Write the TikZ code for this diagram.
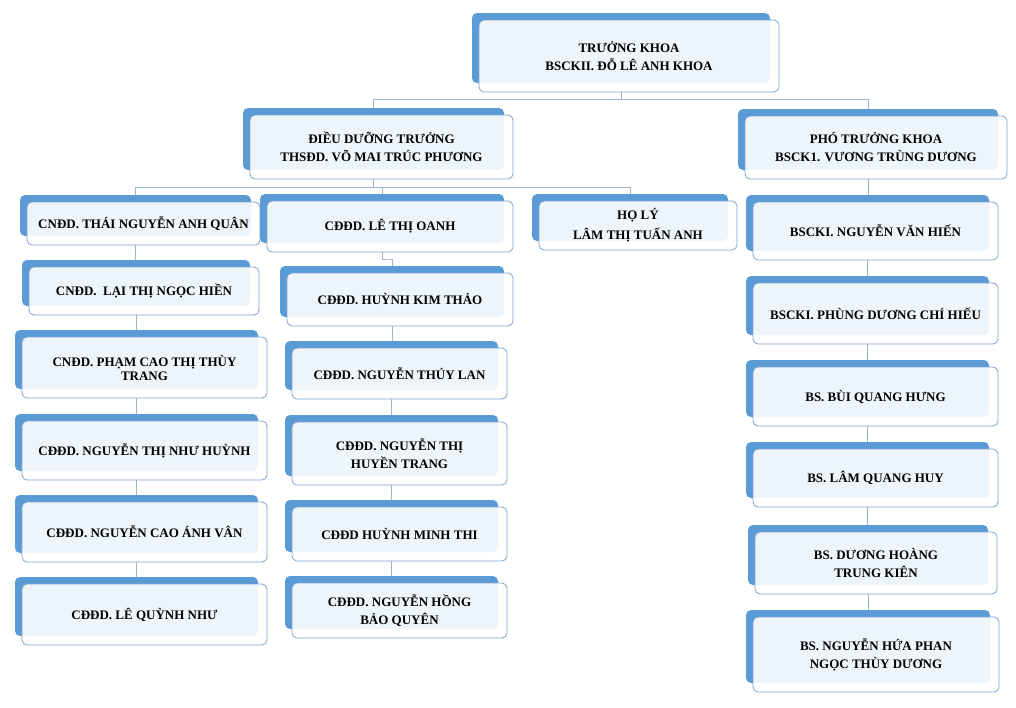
\documentclass[tikz,border=0pt]{standalone}
\usepackage{fontspec}
\setmainfont{Liberation Serif}
\usetikzlibrary{calc}
\definecolor{cTab}{HTML}{5B9BD5}
\definecolor{cBorder}{HTML}{7EA1CF}
\definecolor{cConn}{HTML}{9FB4CC}
\tikzset{
  tabshape/.style={fill=cTab, rounded corners=5pt},
  frontbox/.style={draw=cBorder, line width=0.8pt, fill=white, fill opacity=0.9, text opacity=1,
    rounded corners=5pt, align=center, inner sep=0pt,
    font=\bfseries\fontsize{13}{18}\selectfont},
  conn/.style={draw=cConn, line width=0.9pt}
}
\newcommand\obox[6]{%
  \fill[tabshape] ({#2-7},{#3-7}) rectangle ({#4-9},{#5-9});
  \node[frontbox, minimum width={(#4-#2)*1pt}, minimum height={(#5-#3)*1pt}] (#1) at ({(#2+#4)/2},{(#3+#5)/2}) {#6};
}
\newcommand\oanchors[5]{%
  \coordinate (#1-top) at ({(#2+#4)/2-8},{#3-7});
  \coordinate (#1-bot) at ({(#2+#4)/2-8},{#5});
}
\begin{document}
\begin{tikzpicture}[x=1pt,y=-1pt]
\useasboundingbox (0,0) rectangle (1016,707);
% anchor coordinates
\oanchors{root}{479}{20}{779}{92}
\oanchors{ddt}{250}{115}{513}{179}
\oanchors{ptk}{745}{116}{1007}{179}
\oanchors{a1}{27}{202}{260}{245}
\oanchors{oanh}{267}{201}{513}{252}
\oanchors{holy}{539}{201}{737}{250}
\oanchors{r1}{753}{202}{998}{260}
\oanchors{a2}{29}{267}{259}{315}
\oanchors{a3}{22}{337}{267}{398}
\oanchors{a4}{22}{421}{267}{480}
\oanchors{a5}{22}{502}{267}{562}
\oanchors{a6}{22}{584}{267}{645}
\oanchors{b1}{287}{273}{513}{326}
\oanchors{b2}{292}{348}{507}{399}
\oanchors{b3}{292}{422}{507}{485}
\oanchors{b4}{292}{507}{507}{561}
\oanchors{b5}{292}{583}{507}{638}
\oanchors{r2}{753}{283}{998}{344}
\oanchors{r3}{753}{367}{998}{426}
\oanchors{r4}{753}{449}{998}{507}
\oanchors{r5}{755}{532}{997}{594}
\oanchors{r6}{753}{617}{999}{692}
\coordinate (j1) at (0,99);
\coordinate (j2) at (0,187);
% connectors
\draw[conn] (root-bot) -- (root-bot |- j1);
\draw[conn] (ddt-top) |- (ptk-top |- j1) -- (ptk-top);
\draw[conn] (ddt-bot) -- (ddt-bot |- j2);
\draw[conn] (a1-top) |- (holy-top |- j2) -- (holy-top);
\draw[conn] (oanh-top) -- (oanh-top |- j2);
\draw[conn] (ptk-bot) -- (ptk-bot |- r1-top);
\draw[conn] (a1-bot) -- (a1-bot |- a2-top);
\draw[conn] (a2-bot) -- (a2-bot |- a3-top);
\draw[conn] (a3-bot) -- (a3-bot |- a4-top);
\draw[conn] (a4-bot) -- (a4-bot |- a5-top);
\draw[conn] (a5-bot) -- (a5-bot |- a6-top);
\draw[conn] (oanh-bot) |- ($(oanh-bot)!0.5!(b1-top)$) -| (b1-top);
\draw[conn] (b1-bot) -- (b1-bot |- b2-top);
\draw[conn] (b2-bot) -- (b2-bot |- b3-top);
\draw[conn] (b3-bot) -- (b3-bot |- b4-top);
\draw[conn] (b4-bot) -- (b4-bot |- b5-top);
\draw[conn] (r1-bot) -- (r1-bot |- r2-top);
\draw[conn] (r2-bot) -- (r2-bot |- r3-top);
\draw[conn] (r3-bot) -- (r3-bot |- r4-top);
\draw[conn] (r4-bot) -- (r4-bot |- r5-top);
\draw[conn] (r5-bot) -- (r5-bot |- r6-top);
% boxes
\obox{root}{479}{20}{779}{92}{TRƯỞNG KHOA\\BSCKII. ĐỖ LÊ ANH KHOA}
\obox{ddt}{250}{115}{513}{179}{ĐIỀU DƯỠNG TRƯỞNG\\THSĐD. VÕ MAI TRÚC PHƯƠNG}
\obox{ptk}{745}{116}{1007}{179}{PHÓ TRƯỞNG KHOA\\BSCK1. VƯƠNG TRÙNG DƯƠNG}
\obox{a1}{27}{202}{260}{245}{CNĐD. THÁI NGUYỄN ANH QUÂN}
\obox{oanh}{267}{201}{513}{252}{CĐĐD. LÊ THỊ OANH}
\obox{holy}{539}{201}{737}{250}{HỌ LÝ\\[2pt]LÂM THỊ TUẤN ANH}
\obox{r1}{753}{202}{998}{260}{BSCKI. NGUYỄN VĂN HIẾN}
\obox{a2}{29}{267}{259}{315}{CNĐD.~ LẠI THỊ NGỌC HIỀN}
\obox{a3}{22}{337}{267}{398}{CNĐD. PHẠM CAO THỊ THÙY\\[-4pt]TRANG}
\obox{a4}{22}{421}{267}{480}{CĐĐD. NGUYỄN THỊ NHƯ HUỲNH}
\obox{a5}{22}{502}{267}{562}{CĐĐD. NGUYỄN CAO ÁNH VÂN}
\obox{a6}{22}{584}{267}{645}{CĐĐD. LÊ QUỲNH NHƯ}
\obox{b1}{287}{273}{513}{326}{CĐĐD. HUỲNH KIM THẢO}
\obox{b2}{292}{348}{507}{399}{CĐĐD. NGUYỄN THÚY LAN}
\obox{b3}{292}{422}{507}{485}{CĐĐD. NGUYỄN THỊ\\HUYỀN TRANG}
\obox{b4}{292}{507}{507}{561}{CĐĐD HUỲNH MINH THI}
\obox{b5}{292}{583}{507}{638}{CĐĐD. NGUYỄN HỒNG\\BẢO QUYÊN}
\obox{r2}{753}{283}{998}{344}{BSCKI. PHÙNG DƯƠNG CHÍ HIẾU}
\obox{r3}{753}{367}{998}{426}{BS. BÙI QUANG HƯNG}
\obox{r4}{753}{449}{998}{507}{BS. LÂM QUANG HUY}
\obox{r5}{755}{532}{997}{594}{BS. DƯƠNG HOÀNG\\TRUNG KIÊN}
\obox{r6}{753}{617}{999}{692}{BS. NGUYỄN HỨA PHAN\\NGỌC THÙY DƯƠNG}
\end{tikzpicture}
\end{document}
